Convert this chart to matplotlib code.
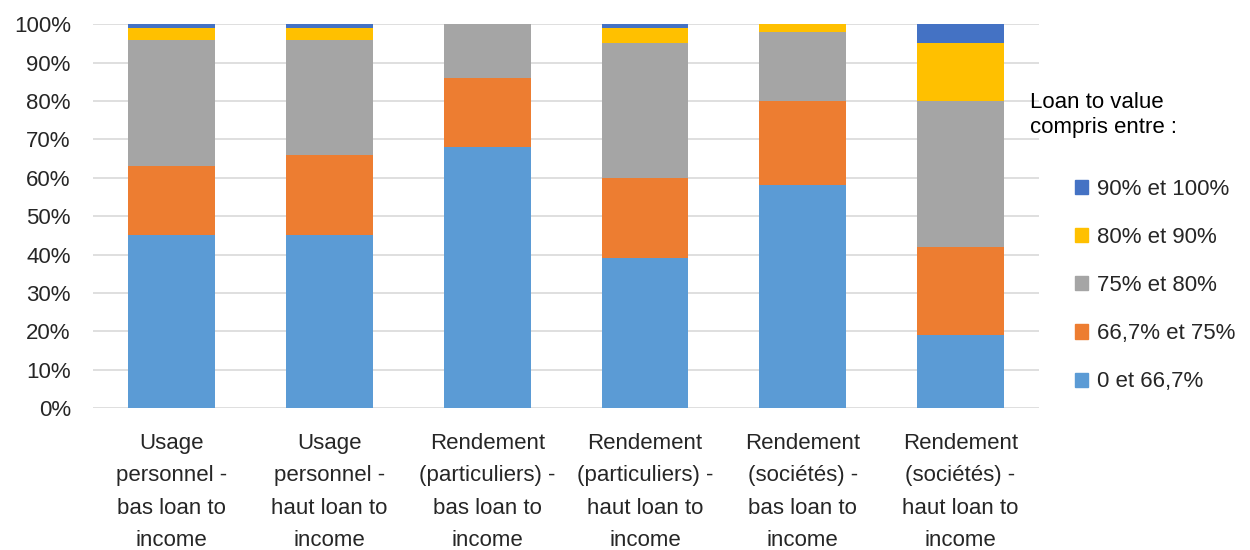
import numpy as np
import matplotlib.pyplot as plt
from matplotlib.patches import Patch
from matplotlib.ticker import PercentFormatter

plt.rcParams['font.family'] = ['Liberation Sans', 'DejaVu Sans']

categories = [
    "Usage\npersonnel -\nbas loan to\nincome",
    "Usage\npersonnel -\nhaut loan to\nincome",
    "Rendement\n(particuliers) -\nbas loan to\nincome",
    "Rendement\n(particuliers) -\nhaut loan to\nincome",
    "Rendement\n(sociétés) -\nbas loan to\nincome",
    "Rendement\n(sociétés) -\nhaut loan to\nincome",
]
series_labels = ["0 et 66,7%", "66,7% et 75%", "75% et 80%", "80% et 90%", "90% et 100%"]
ltv_0_667 = [45, 45, 68, 39, 58, 19]
ltv_667_75 = [18, 21, 18, 21, 22, 23]
ltv_75_80 = [33, 30, 14, 35, 18, 38]
ltv_80_90 = [3, 3, 0, 4, 2, 15]
ltv_90_100 = [1, 1, 0, 1, 0, 5]
colors = ["#5B9BD5", "#ED7D31", "#A5A5A5", "#FFC000", "#4472C4"]

series = [ltv_0_667, ltv_667_75, ltv_75_80, ltv_80_90, ltv_90_100]

fig = plt.figure(figsize=(12.5, 5.5), dpi=100)
ax = fig.add_axes([0.0744, 0.258, 0.757, 0.698])

x = np.arange(len(categories))
bottom = np.zeros(len(categories))
for vals, col in zip(series, colors):
    ax.bar(x, vals, bottom=bottom, width=0.55, color=col, zorder=3)
    bottom += np.array(vals)

ax.set_ylim(0, 100)
ax.set_xlim(-0.5, len(categories) - 0.5)
ax.set_yticks(np.arange(0, 101, 10))
ax.yaxis.set_major_formatter(PercentFormatter(decimals=0))
ax.grid(axis='y', color='#D9D9D9', linewidth=1.2, zorder=0)
for s in ax.spines.values():
    s.set_visible(False)
ax.tick_params(axis='both', length=0, labelsize=16, labelcolor='#262626')
ax.tick_params(axis='y', pad=16)
ax.tick_params(axis='x', pad=18)
ax.set_xticks(x)
ax.set_xticklabels(categories, linespacing=1.7)

fig.text(0.824, 0.791, "Loan to value\ncompris entre :", fontsize=16,
         color='#000000', va='center', ha='left', linespacing=1.3)

handles = [Patch(color=c, label=l) for c, l in zip(colors, series_labels)][::-1]
fig.legend(handles=handles, loc='upper left', bbox_to_anchor=(0.844, 0.711),
           frameon=False, fontsize=16, handlelength=0.6, handleheight=0.6,
           handletextpad=0.4, labelspacing=1.22, labelcolor='#262626')

fig.savefig("out.png", dpi=100)
